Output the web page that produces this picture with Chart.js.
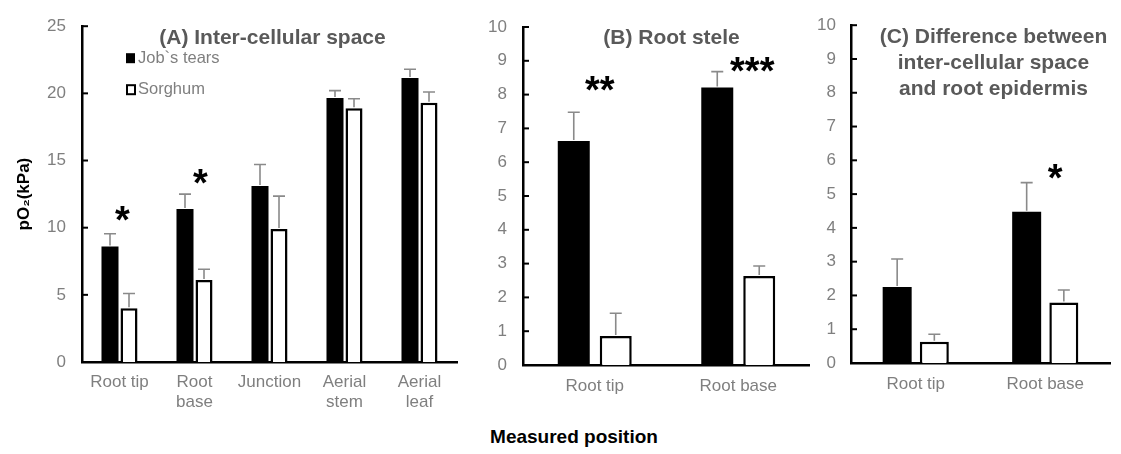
<!DOCTYPE html>
<html><head><meta charset="utf-8">
<script src="https://cdn.jsdelivr.net/npm/chart.js@4.4.1/dist/chart.umd.min.js"></script>
<style>
html,body{margin:0;padding:0;background:#fff;width:1121px;height:454px;overflow:hidden;position:relative;font-family:"Liberation Sans",Arial,sans-serif}
canvas{position:absolute;top:0}
#xl{position:absolute;left:374px;width:400px;top:426px;text-align:center;font-weight:bold;font-size:19px;color:#000;white-space:nowrap}
</style></head><body>
<canvas id="cA" width="470" height="420" style="left:0"></canvas>
<canvas id="cB" width="340" height="420" style="left:470px"></canvas>
<canvas id="cC" width="311" height="420" style="left:810px"></canvas>
<div id="xl">Measured position</div>
<script>
// ---- data ----
const seriesNames = ["Job`s tears", "Sorghum"];
const catsA = ["Root tip", ["Root", "base"], "Junction", ["Aerial", "stem"], ["Aerial", "leaf"]];
const catsBC = ["Root tip", "Root base"];

const aJob   = [8.6, 11.4, 13.1, 19.65, 21.15];
const aJobSE = [0.95, 1.1, 1.6, 0.55, 0.65];
const aSor   = [4.0, 6.1, 9.9, 18.9, 19.3];
const aSorSE = [1.1, 0.8, 2.45, 0.7, 0.8];
const aSig   = ["*", "*", "", "", ""];
const aSigAt = [11.2, 14.0, 0, 0, 0];

const bJob   = [6.63, 8.21];
const bJobSE = [0.85, 0.47];
const bSor   = [0.86, 2.63];
const bSorSE = [0.67, 0.3];
const bSig   = ["**", "***"];
const bSigAt = [8.38, 8.94];

const cJob   = [2.25, 4.48];
const cJobSE = [0.83, 0.86];
const cSor   = [0.63, 1.79];
const cSorSE = [0.22, 0.37];
const cSig   = ["", "*"];
const cSigAt = [0, 5.74];

const aTicks = {max: 25, step: 5};
const bcTicks = {max: 10, step: 1};

// ---- styles ----
const FONT = "'Liberation Sans', Arial, sans-serif";
const TICKGRAY = "#7f7f7f";
const TITLEGRAY = "#595959";

const extras = {
  id: "extras",
  afterDatasetsDraw(chart, args, o) {
    const ctx = chart.ctx, ys = chart.scales.y, xs = chart.scales.x, ca = chart.chartArea;
    ctx.save();
    // error bars
    ctx.strokeStyle = "#8a8a8a"; ctx.lineWidth = 1.6;
    chart.data.datasets.forEach((ds, i) => {
      const meta = chart.getDatasetMeta(i);
      meta.data.forEach((bar, j) => {
        const y0 = ys.getPixelForValue(ds.data[j]);
        const y1 = ys.getPixelForValue(ds.data[j] + ds.err[j]);
        ctx.beginPath();
        ctx.moveTo(bar.x, y0 - 1); ctx.lineTo(bar.x, y1);
        ctx.moveTo(bar.x - o.cap, y1); ctx.lineTo(bar.x + o.cap, y1);
        ctx.stroke();
      });
    });
    // inward tick marks
    ctx.strokeStyle = "#000"; ctx.lineWidth = 2;
    ys.ticks.forEach(t => {
      const y = ys.getPixelForValue(t.value);
      ctx.beginPath(); ctx.moveTo(ca.left, y); ctx.lineTo(ca.left + 6, y); ctx.stroke();
    });
    // significance marks
    ctx.fillStyle = "#000"; ctx.font = "bold " + o.sigSize + "px " + FONT;
    ctx.textAlign = "center"; ctx.textBaseline = "alphabetic";
    o.sig.forEach((s, j) => {
      if (!s) return;
      const x = xs.getPixelForValue(j) + o.sigDx[j];
      const y = ys.getPixelForValue(o.sigAt[j]) + 0.57 * o.sigSize;
      ctx.fillText(s, x, y);
    });
    // panel title
    ctx.fillStyle = TITLEGRAY; ctx.font = "bold " + o.titleSize + "px " + FONT;
    ctx.textBaseline = "middle";
    const cx = (ca.left + ca.right) / 2 + o.titleDx;
    o.title.forEach((line, k) => ctx.fillText(line, cx, o.titleY + k * o.titleLH));
    // legend
    if (o.legend) {
      ctx.font = "16.5px " + FONT; ctx.textAlign = "left"; ctx.fillStyle = TICKGRAY;
      const lx = ca.left + 44;
      chart.data.datasets.forEach((ds, i) => {
        const ly = ca.top + (i === 0 ? 32 : 63);
        if (i === 0) { ctx.fillStyle = "#000"; ctx.fillRect(lx, ly - 5, 9, 10); }
        else { ctx.strokeStyle = "#000"; ctx.lineWidth = 2; ctx.strokeRect(lx + 1, ly - 4, 8, 9); }
        ctx.fillStyle = TICKGRAY;
        ctx.fillText(ds.label, lx + 12, ly);
      });
    }
    ctx.restore();
  }
};

function makeChart(id, cfg) {
  const ds = [
    {label: seriesNames[0], data: cfg.job, err: cfg.jobSE, backgroundColor: "#000", borderColor: "#000", borderWidth: 0,
     categoryPercentage: cfg.cp, barPercentage: cfg.bp},
    {label: seriesNames[1], data: cfg.sor, err: cfg.sorSE, backgroundColor: "#fff", borderColor: "#000", borderWidth: 2.5,
     categoryPercentage: cfg.cp, barPercentage: cfg.bp}
  ];
  return new Chart(document.getElementById(id), {
    type: "bar",
    data: {labels: cfg.labels, datasets: ds},
    plugins: [extras],
    options: {
      responsive: false, animation: false, devicePixelRatio: 1,
      layout: {padding: {left: 0, top: cfg.top, right: cfg.w - cfg.right, bottom: 0}},
      plugins: {
        legend: {display: false}, tooltip: {enabled: false},
        extras: {cap: 6, sig: cfg.sig, sigAt: cfg.sigAt, sigDx: cfg.sigDx, sigSize: 38,
                 title: cfg.title, titleDx: cfg.titleDx, titleY: cfg.titleY, titleLH: 26, titleSize: 21,
                 legend: cfg.legend}
      },
      scales: {
        x: {
          ticks: {color: TICKGRAY, font: {size: 17, family: FONT, lineHeight: 1.15}, padding: cfg.xPad,
                  maxRotation: 0, autoSkip: false},
          grid: {display: false, drawTicks: false, tickLength: 0},
          border: {display: true, color: "#000", width: 2.5},
          afterFit: s => { s.height = cfg.h - cfg.bottom; }
        },
        y: {
          min: 0, max: cfg.ticks.max,
          ticks: {stepSize: cfg.ticks.step, color: TICKGRAY, font: {size: 17, family: FONT}, padding: cfg.yPad},
          grid: {display: false, drawTicks: false, tickLength: 0},
          border: {display: true, color: "#000", width: 2.5},
          title: cfg.yTitle ? {display: true, text: cfg.yTitle, color: "#000",
                               font: {size: 17, weight: "bold", family: FONT}, padding: {top: 14, bottom: 0}} : {display: false},
          afterFit: s => { s.width = cfg.left; }
        }
      }
    }
  });
}

makeChart("cA", {labels: catsA, job: aJob, jobSE: aJobSE, sor: aSor, sorSE: aSorSE,
  sig: aSig, sigAt: aSigAt, sigDx: [3, 6, 0, 0, 0], ticks: aTicks,
  w: 470, h: 420, left: 82, right: 457, top: 24, bottom: 362, cp: 0.507, bp: 0.895,
  xPad: 11, yPad: 16, title: ["(A) Inter-cellular space"], titleDx: 3, titleY: 38, legend: true,
  yTitle: "pO\u2082(kPa)"});

makeChart("cB", {labels: catsBC, job: bJob, jobSE: bJobSE, sor: bSor, sorSE: bSorSE,
  sig: bSig, sigAt: bSigAt, sigDx: [5, 14], ticks: bcTicks,
  w: 340, h: 420, left: 53, right: 340, top: 27, bottom: 365, cp: 0.585, bp: 0.762,
  xPad: 12, yPad: 16, title: ["(B) Root stele"], titleDx: 5, titleY: 38, legend: false});

makeChart("cC", {labels: catsBC, job: cJob, jobSE: cJobSE, sor: cSor, sorSE: cSorSE,
  sig: cSig, sigAt: cSigAt, sigDx: [0, 10], ticks: bcTicks,
  w: 311, h: 420, left: 41, right: 300, top: 23, bottom: 363, cp: 0.574, bp: 0.78,
  xPad: 12, yPad: 15, title: ["(C) Difference between", "inter-cellular space", "and root epidermis"],
  titleDx: 13, titleY: 37, legend: false});
</script>
</body></html>
